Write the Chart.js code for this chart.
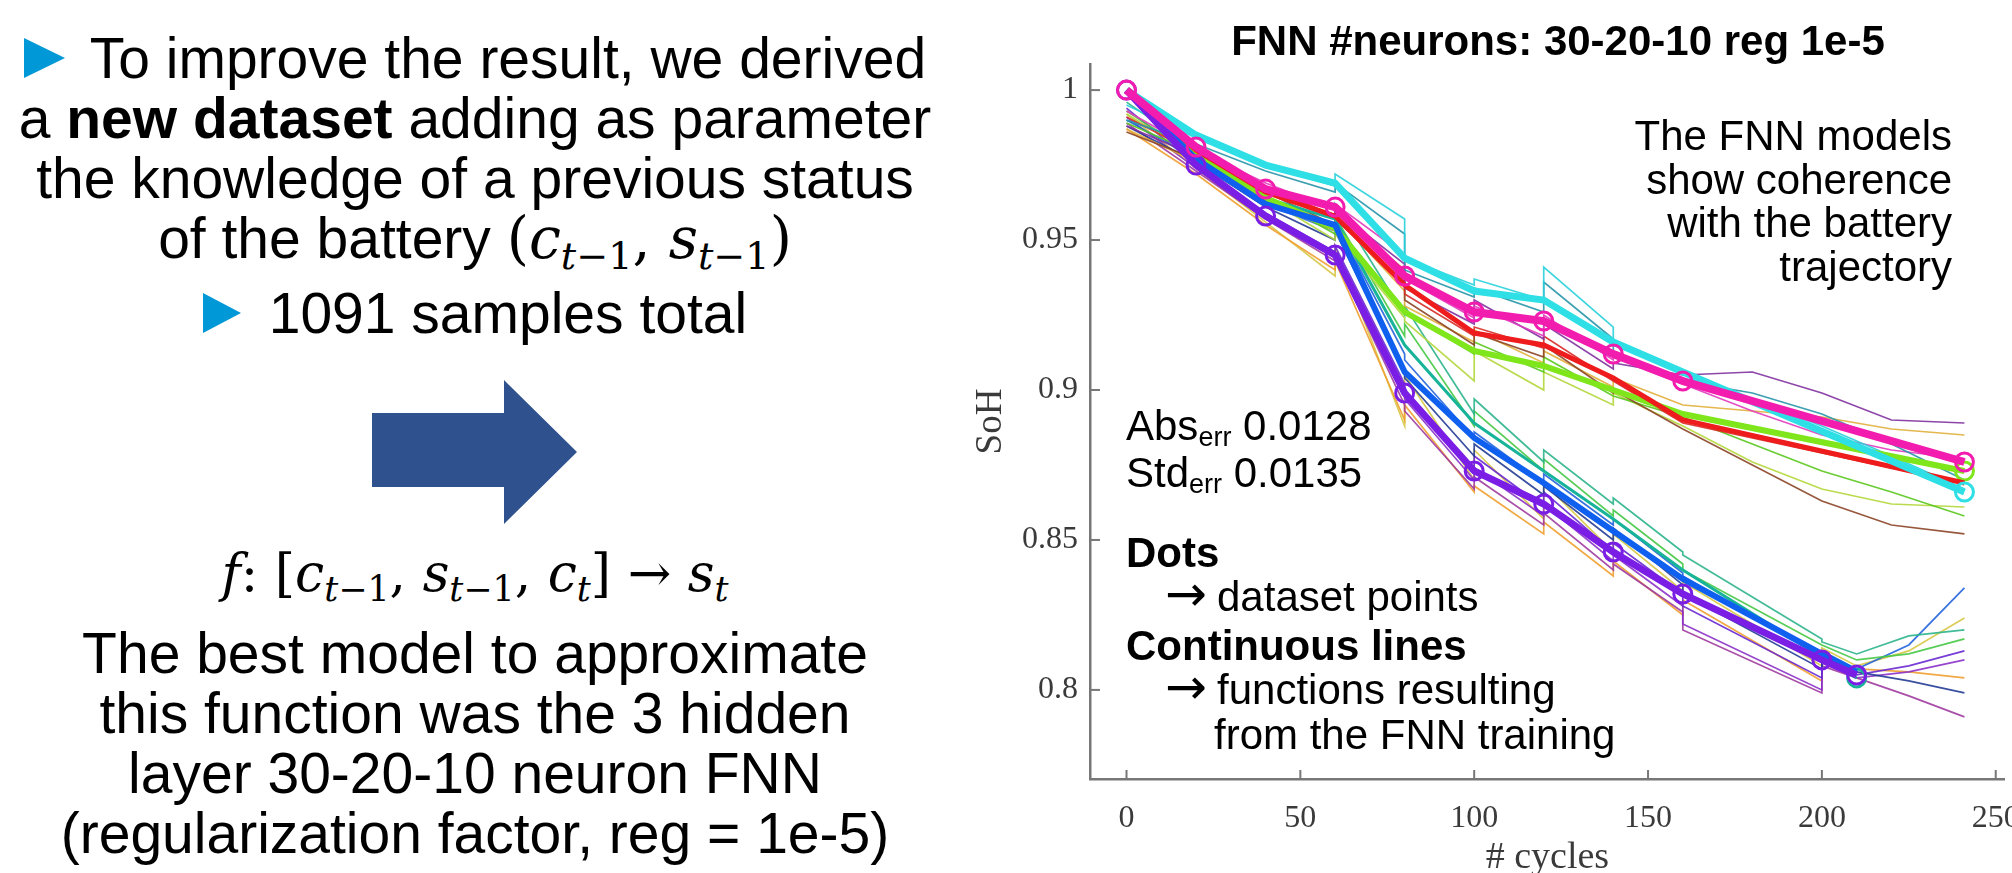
<!DOCTYPE html>
<html>
<head>
<meta charset="utf-8">
<script src="https://cdn.jsdelivr.net/npm/chart.js@4.4.1/dist/chart.umd.min.js"></script>
<style>
  html, body { margin: 0; padding: 0; background: #fff; width: 2012px; height: 873px; overflow: hidden; }
  body { position: relative; }
  .t { position: absolute; white-space: nowrap; font-family: "Liberation Sans", Arial, sans-serif; color: #000; }
  .left { left: 0; width: 950px; text-align: center; font-size: 57px; line-height: 57px; }
  .note { font-size: 42px; line-height: 42px; }
  .arrow { font-family: "DejaVu Sans", sans-serif; font-size: 50px; line-height: 50px; }
  .tri { display: inline-block; width: 0; height: 0; border-left: 41px solid #0098d6;
         border-top: 20px solid transparent; border-bottom: 20px solid transparent; vertical-align: baseline; }
  .m { font-family: "DejaVu Serif", serif; }
  .m i { font-style: italic; }
  .m sub { font-size: 0.67em; vertical-align: baseline; position: relative; top: 0.28em; }
  .sub { font-size: 27px; position: relative; top: 6px; }
  #chartBox { position: absolute; left: 960px; top: 0; width: 1080px; height: 873px; }
</style>
</head>
<body>

<!-- left slide text -->
<div class="t left" style="top:30px"><span class="tri" style="margin-right:10px"></span> To improve the result, we derived</div>
<div class="t left" style="top:90px">a <b>new dataset</b> adding as parameter</div>
<div class="t left" style="top:150px">the knowledge of a previous status</div>
<div class="t left" style="top:210px">of the battery <span class="m">(<i>c</i><sub><i>t</i>−1</sub>, <i>s</i><sub><i>t</i>−1</sub>)</span></div>
<div class="t left" style="top:285px"><span class="tri" style="border-left-width:38px;margin-right:12px"></span> 1091 samples total</div>

<svg style="position:absolute;left:0;top:0" width="960" height="873">
  <polygon points="372,413 504,413 504,380 577,452 504,524 504,487 372,487" fill="#2f528f"/>
</svg>

<div class="t left m" style="top:547px;font-size:52px;line-height:52px"><i>f</i>: [<i>c</i><sub><i>t</i>−1</sub>, <i>s</i><sub><i>t</i>−1</sub>, <i>c</i><sub><i>t</i></sub>] → <i>s</i><sub><i>t</i></sub></div>
<div class="t left" style="top:625px">The best model to approximate</div>
<div class="t left" style="top:685px">this function was the 3 hidden</div>
<div class="t left" style="top:745px">layer 30-20-10 neuron FNN</div>
<div class="t left" style="top:805px">(regularization factor, reg = 1e-5)</div>

<div id="chartBox"><canvas id="sohChart" width="1080" height="873"></canvas></div>

<!-- text laid over the chart -->
<div class="t note" style="left:1158px;width:800px;text-align:center;top:20px;font-weight:bold">FNN #neurons: 30-20-10 reg 1e-5</div>
<div class="t note" style="right:60px;text-align:right;top:114px;line-height:43.5px">The FNN models<br>show coherence<br>with the battery<br>trajectory</div>
<div class="t note" style="left:1126px;top:405px">Abs<span class="sub">err</span> 0.0128</div>
<div class="t note" style="left:1126px;top:452px">Std<span class="sub">err</span> 0.0135</div>
<div class="t note" style="left:1126px;top:532px;font-weight:bold">Dots</div>
<div class="t arrow" style="left:1165px;top:569px">→</div>
<div class="t note" style="left:1217px;top:576px">dataset points</div>
<div class="t note" style="left:1126px;top:625px;font-weight:bold">Continuous lines</div>
<div class="t arrow" style="left:1165px;top:662px">→</div>
<div class="t note" style="left:1217px;top:669px">functions resulting</div>
<div class="t note" style="left:1214px;top:714px">from the FNN training</div>

<script>
// measured battery trajectories (dataset points)
const upperCycles = [0, 20, 40, 60, 80, 100, 120, 140, 160, 241];
const upperMagenta = [1.000, 0.981, 0.967, 0.961, 0.938, 0.926, 0.923, 0.912, 0.903, 0.876];
const upperCyan = [1.000, 0.985, 0.975, 0.969, 0.944, 0.933, 0.930, 0.916, 0.906, 0.866];
const upperRed = [1.000, 0.980, 0.966, 0.958, 0.935, 0.919, 0.915, 0.904, 0.890, 0.869];
const upperGreen = [1.000, 0.979, 0.964, 0.954, 0.926, 0.913, 0.908, 0.900, 0.892, 0.873];

const lowerCycles = [0, 20, 40, 60, 80, 100, 120, 140, 160, 200, 210];
const lowerPurple = [1.000, 0.975, 0.958, 0.945, 0.899, 0.873, 0.862, 0.846, 0.832, 0.810, 0.805];
const lowerBlue = [1.000, 0.977, 0.962, 0.955, 0.906, 0.884, 0.869, 0.853, 0.837, 0.812, 0.806];
const lowerTeal = [1.000, 0.978, 0.964, 0.957, 0.915, 0.889, 0.873, 0.857, 0.840, 0.811, 0.804];

// FNN outputs (repeated cycle = jump back to the next measured status)
const upperFnnCycles = [0, 20, 40, 60, 60, 80, 80, 100, 100, 120, 120, 140, 140, 160, 180, 200, 220, 241];
const fnnUp1 = [0.995, 0.984, 0.975, 0.968, 0.972, 0.957, 0.944, 0.935, 0.937, 0.930, 0.941, 0.921, 0.915, 0.906, 0.897, 0.888, 0.878, 0.867];
const fnnUp2 = [0.990, 0.982, 0.973, 0.966, 0.969, 0.952, 0.940, 0.931, 0.934, 0.926, 0.936, 0.917, 0.912, 0.903, 0.899, 0.892, 0.882, 0.870];
const fnnUp3 = [0.993, 0.980, 0.969, 0.960, 0.962, 0.945, 0.937, 0.924, 0.928, 0.918, 0.925, 0.910, 0.911, 0.902, 0.893, 0.885, 0.880, 0.877];
const fnnUp4 = [0.988, 0.978, 0.967, 0.957, 0.960, 0.942, 0.934, 0.922, 0.930, 0.917, 0.922, 0.907, 0.909, 0.905, 0.906, 0.899, 0.890, 0.889];
const fnnUp5 = [0.991, 0.979, 0.968, 0.958, 0.960, 0.940, 0.932, 0.918, 0.921, 0.914, 0.918, 0.903, 0.903, 0.889, 0.884, 0.879, 0.874, 0.869];
const fnnUp6 = [0.986, 0.977, 0.966, 0.955, 0.957, 0.936, 0.930, 0.915, 0.919, 0.911, 0.915, 0.899, 0.900, 0.887, 0.875, 0.863, 0.855, 0.852];
const fnnUp7 = [0.989, 0.979, 0.965, 0.952, 0.955, 0.927, 0.926, 0.912, 0.916, 0.906, 0.911, 0.898, 0.898, 0.891, 0.882, 0.873, 0.866, 0.858];
const fnnUp8 = [0.992, 0.978, 0.964, 0.950, 0.952, 0.924, 0.923, 0.903, 0.913, 0.900, 0.906, 0.895, 0.899, 0.888, 0.876, 0.867, 0.862, 0.861];
const fnnUp9 = [0.987, 0.976, 0.963, 0.953, 0.958, 0.933, 0.928, 0.916, 0.920, 0.909, 0.913, 0.901, 0.904, 0.895, 0.893, 0.891, 0.887, 0.885];

const lowerFnnCycles = [0, 20, 40, 60, 60, 80, 80, 100, 100, 120, 120, 140, 140, 160, 160, 200, 200, 210, 225, 241];
const fnnLow1 = [0.996, 0.980, 0.966, 0.958, 0.962, 0.925, 0.928, 0.892, 0.897, 0.876, 0.880, 0.862, 0.864, 0.846, 0.845, 0.817, 0.816, 0.812, 0.818, 0.820];
const fnnLow2 = [0.993, 0.978, 0.964, 0.955, 0.958, 0.918, 0.922, 0.888, 0.893, 0.873, 0.877, 0.858, 0.860, 0.842, 0.840, 0.815, 0.815, 0.810, 0.812, 0.817];
const fnnLow3 = [0.990, 0.977, 0.962, 0.953, 0.956, 0.912, 0.910, 0.884, 0.886, 0.869, 0.872, 0.855, 0.857, 0.839, 0.838, 0.811, 0.813, 0.807, 0.815, 0.834];
const fnnLow4 = [0.988, 0.976, 0.961, 0.950, 0.953, 0.906, 0.904, 0.878, 0.882, 0.865, 0.868, 0.850, 0.854, 0.835, 0.832, 0.807, 0.812, 0.806, 0.803, 0.799];
const fnnLow5 = [0.994, 0.975, 0.959, 0.946, 0.948, 0.902, 0.900, 0.874, 0.878, 0.861, 0.866, 0.846, 0.849, 0.832, 0.828, 0.804, 0.810, 0.805, 0.808, 0.813];
const fnnLow6 = [0.991, 0.974, 0.958, 0.944, 0.945, 0.898, 0.897, 0.870, 0.874, 0.858, 0.862, 0.843, 0.845, 0.828, 0.822, 0.800, 0.809, 0.804, 0.806, 0.810];
const fnnLow7 = [0.989, 0.973, 0.957, 0.943, 0.944, 0.895, 0.893, 0.867, 0.871, 0.855, 0.859, 0.840, 0.842, 0.826, 0.820, 0.799, 0.808, 0.804, 0.798, 0.791];
const fnnLow8 = [0.987, 0.972, 0.955, 0.940, 0.943, 0.890, 0.895, 0.866, 0.868, 0.852, 0.856, 0.838, 0.843, 0.825, 0.830, 0.803, 0.811, 0.807, 0.806, 0.804];
const fnnLow9 = [0.992, 0.974, 0.956, 0.938, 0.948, 0.888, 0.905, 0.870, 0.880, 0.857, 0.869, 0.846, 0.852, 0.833, 0.836, 0.808, 0.814, 0.808, 0.813, 0.824];

// axes
const xTickValues = [0, 50, 100, 150, 200, 250];
const yTickValues = [0.8, 0.85, 0.9, 0.95, 1];

const axisFont = '"Liberation Serif", "Times New Roman", serif';
const axisGrey = '#777';

function toPoints(xs, ys) {
  return xs.map((x, i) => ({ x: x, y: ys[i] }));
}

// thick measured line, circles on chosen points
function measured(xs, ys, color, width, circles) {
  return {
    data: toPoints(xs, ys),
    borderColor: color,
    borderWidth: width,
    tension: 0,
    order: 0,
    pointRadius: (c) => (circles === 'all' || (circles === 'last' && c.dataIndex === ys.length - 1) ? 9 : 0),
    pointBorderColor: color,
    pointBorderWidth: 3,
    pointBackgroundColor: 'rgba(255,255,255,0)',
  };
}

function fnn(xs, ys, color) {
  return {
    data: toPoints(xs, ys),
    borderColor: color,
    borderWidth: 1.7,
    tension: 0,
    order: 1,
    pointRadius: 0,
  };
}

// small inward tick marks, matlab style
const innerTicks = {
  id: 'innerTicks',
  afterDraw(chart) {
    const { ctx, chartArea, scales } = chart;
    ctx.save();
    ctx.strokeStyle = axisGrey;
    ctx.lineWidth = 2;
    scales.x.ticks.forEach((t) => {
      const px = scales.x.getPixelForValue(t.value);
      ctx.beginPath();
      ctx.moveTo(px, chartArea.bottom);
      ctx.lineTo(px, chartArea.bottom - 9);
      ctx.stroke();
    });
    scales.y.ticks.forEach((t) => {
      const py = scales.y.getPixelForValue(t.value);
      ctx.beginPath();
      ctx.moveTo(chartArea.left, py);
      ctx.lineTo(chartArea.left + 10, py);
      ctx.stroke();
    });
    ctx.restore();
  },
};

function initSohChart() {
  const ctx = document.getElementById('sohChart');

  new Chart(ctx, {
    type: 'line',
    data: {
      datasets: [
        measured(upperCycles, upperMagenta, '#f21cae', 8, 'all'),
        measured(lowerCycles, lowerPurple, '#7a1ee6', 7, 'all'),
        measured(upperCycles, upperCyan, '#2ee0e6', 7, 'last'),
        measured(lowerCycles, lowerBlue, '#1060f0', 6, 'none'),
        measured(upperCycles, upperRed, '#ee1c1c', 5, 'none'),
        measured(upperCycles, upperGreen, '#7ee61a', 6, 'last'),
        measured(lowerCycles, lowerTeal, '#18b49a', 3, 'last'),
        fnn(upperFnnCycles, fnnUp1, 'rgba(40,210,220,0.9)'),
        fnn(upperFnnCycles, fnnUp2, 'rgba(40,150,170,0.9)'),
        fnn(upperFnnCycles, fnnUp3, 'rgba(225,60,190,0.9)'),
        fnn(upperFnnCycles, fnnUp4, 'rgba(130,50,160,0.9)'),
        fnn(upperFnnCycles, fnnUp5, 'rgba(215,45,40,0.9)'),
        fnn(upperFnnCycles, fnnUp6, 'rgba(140,70,40,0.9)'),
        fnn(upperFnnCycles, fnnUp7, 'rgba(90,200,30,0.9)'),
        fnn(upperFnnCycles, fnnUp8, 'rgba(180,215,60,0.9)'),
        fnn(upperFnnCycles, fnnUp9, 'rgba(225,175,60,0.9)'),
        fnn(lowerFnnCycles, fnnLow1, 'rgba(45,180,140,0.9)'),
        fnn(lowerFnnCycles, fnnLow2, 'rgba(70,200,70,0.9)'),
        fnn(lowerFnnCycles, fnnLow3, 'rgba(35,100,220,0.9)'),
        fnn(lowerFnnCycles, fnnLow4, 'rgba(35,60,150,0.9)'),
        fnn(lowerFnnCycles, fnnLow5, 'rgba(105,40,210,0.9)'),
        fnn(lowerFnnCycles, fnnLow6, 'rgba(140,50,200,0.9)'),
        fnn(lowerFnnCycles, fnnLow7, 'rgba(160,60,160,0.9)'),
        fnn(lowerFnnCycles, fnnLow8, 'rgba(240,160,50,0.9)'),
        fnn(lowerFnnCycles, fnnLow9, 'rgba(215,200,70,0.9)'),
      ],
    },
    options: {
      responsive: false,
      animation: false,
      layout: { padding: { top: 64, right: 28, bottom: 0, left: 0 } },
      plugins: { legend: { display: false }, tooltip: { enabled: false } },
      scales: {
        x: {
          type: 'linear',
          min: -10.5,
          max: 252.6,
          afterFit: (s) => { s.height = 94; },
          afterBuildTicks: (s) => { s.ticks = xTickValues.map((v) => ({ value: v })); },
          grid: { drawOnChartArea: false, drawTicks: false },
          border: { color: axisGrey, width: 2.5 },
          ticks: { font: { family: axisFont, size: 32 }, color: '#3a3a3a', padding: 20, maxRotation: 0 },
          title: {
            display: true,
            text: '# cycles',
            font: { family: axisFont, size: 38, lineHeight: 1 },
            color: '#3a3a3a',
            padding: { top: 0, bottom: -4 },
          },
        },
        y: {
          min: 0.7703,
          max: 1.0087,
          afterFit: (s) => { s.width = 130; },
          afterBuildTicks: (s) => { s.ticks = yTickValues.map((v) => ({ value: v })); },
          grid: { drawOnChartArea: false, drawTicks: false },
          border: { color: axisGrey, width: 2.5 },
          ticks: {
            font: { family: axisFont, size: 32 },
            color: '#3a3a3a',
            padding: 12,
            callback: (v) => String(+Number(v).toFixed(2)),
          },
          title: {
            display: true,
            text: 'SoH',
            font: { family: axisFont, size: 37, lineHeight: 1 },
            color: '#3a3a3a',
            padding: { top: 13, bottom: 0 },
          },
        },
      },
    },
    plugins: [innerTicks],
  });
}

document.addEventListener('DOMContentLoaded', function () {
  initSohChart();
});
</script>
</body>
</html>
